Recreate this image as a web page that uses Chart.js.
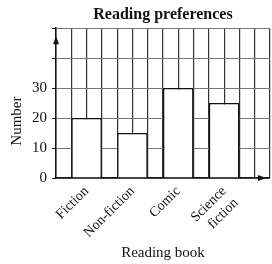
<!DOCTYPE html>
<html>
<head>
<meta charset="utf-8">
<script src="https://cdn.jsdelivr.net/npm/chart.js@4.4.1/dist/chart.umd.min.js"></script>
<style>
  html, body { margin: 0; padding: 0; background: #fff; }
  #wrap { width: 272px; height: 264px; }
</style>
</head>
<body>
<div id="wrap"><canvas id="readingChart"></canvas></div>
<script>
// data
const categories = ['Fiction', 'Non-fiction', 'Comic', ['Science', 'fiction']];
const numbers = [20, 15, 30, 25];
const yTickLabels = [0, 10, 20, 30];

// each category takes 3 grid cells, bar sits 1 cell in, 2 cells wide
const cellsPerCat = 3;
const points = numbers.map((v, i) => ({ x: 2 + i * cellsPerCat, y: v }));
const xMax = categories.length * cellsPerCat + 2;

Chart.defaults.font.family = "'Liberation Serif', 'DejaVu Serif', serif";
Chart.defaults.font.size = 15;
Chart.defaults.color = '#111';

// arrow heads on the axes + the y axis name
const extras = {
  id: 'extras',
  afterDraw(chart) {
    const c = chart.ctx, a = chart.chartArea;
    c.save();
    c.fillStyle = '#111';
    c.beginPath();
    c.moveTo(a.left, a.top + 8);
    c.lineTo(a.left - 3, a.top + 16);
    c.lineTo(a.left + 3, a.top + 16);
    c.fill();
    c.beginPath();
    c.moveTo(a.right - 4, a.bottom);
    c.lineTo(a.right - 12, a.bottom - 3);
    c.lineTo(a.right - 12, a.bottom + 3);
    c.fill();

    c.translate(17, a.top + (a.bottom - a.top) * 0.62);
    c.rotate(-Math.PI / 2);
    c.font = "15px 'Liberation Serif', serif";
    c.textAlign = 'center';
    c.textBaseline = 'middle';
    c.fillText('Number', 0, 0);
    c.restore();
  }
};

const ctx = document.getElementById('readingChart').getContext('2d');
const readingChart = new Chart(ctx, {
  type: 'bar',
  data: {
    datasets: [{
      label: 'Number',
      data: points,
      backgroundColor: '#ffffff',
      borderColor: '#111111',
      borderWidth: 1.5,
      categoryPercentage: 2,
      barPercentage: 1
    }]
  },
  options: {
    responsive: true,
    maintainAspectRatio: false,
    animation: false,
    layout: { padding: { right: 2 } },
    scales: {
      x: {
        type: 'linear',
        min: 0,
        max: xMax,
        offset: false,
        afterBuildTicks(scale) {
          const t = [];
          for (let v = 0; v <= xMax; v++) t.push({ value: v });
          scale.ticks = t;
        },
        afterFit(scale) {
          scale.height = 86;
          scale.paddingLeft = 0;
          scale.paddingRight = 0;
        },
        grid: { color: '#333', lineWidth: 1.2, drawTicks: false, offset: false },
        border: { color: '#111', width: 1.5 },
        ticks: {
          autoSkip: false,
          minRotation: 45,
          maxRotation: 45,
          padding: 5,
          font: { size: 14 },
          callback(v) {
            const i = (v - 2) / cellsPerCat;
            return Number.isInteger(i) && i >= 0 && i < categories.length ? categories[i] : '';
          }
        },
        title: { display: true, text: 'Reading book', font: { size: 15 }, padding: { top: 0, bottom: 2 } }
      },
      y: {
        min: 0,
        max: 50,
        afterFit(scale) { scale.width = 56; },
        grid: { color: '#777', lineWidth: 1, tickLength: 4, tickColor: '#111' },
        border: { color: '#111', width: 1.5 },
        ticks: {
          stepSize: 5,
          padding: 5,
          font: { size: 15 },
          callback(v) { return yTickLabels.includes(v) ? v : ''; }
        }
      }
    },
    plugins: {
      legend: { display: false },
      tooltip: { enabled: false },
      title: {
        display: true,
        text: 'Reading preferences',
        fullSize: false,
        font: { size: 16, weight: 'bold' },
        color: '#111',
        padding: { top: 5, bottom: 4 }
      }
    }
  },
  plugins: [extras]
});
</script>
</body>
</html>
